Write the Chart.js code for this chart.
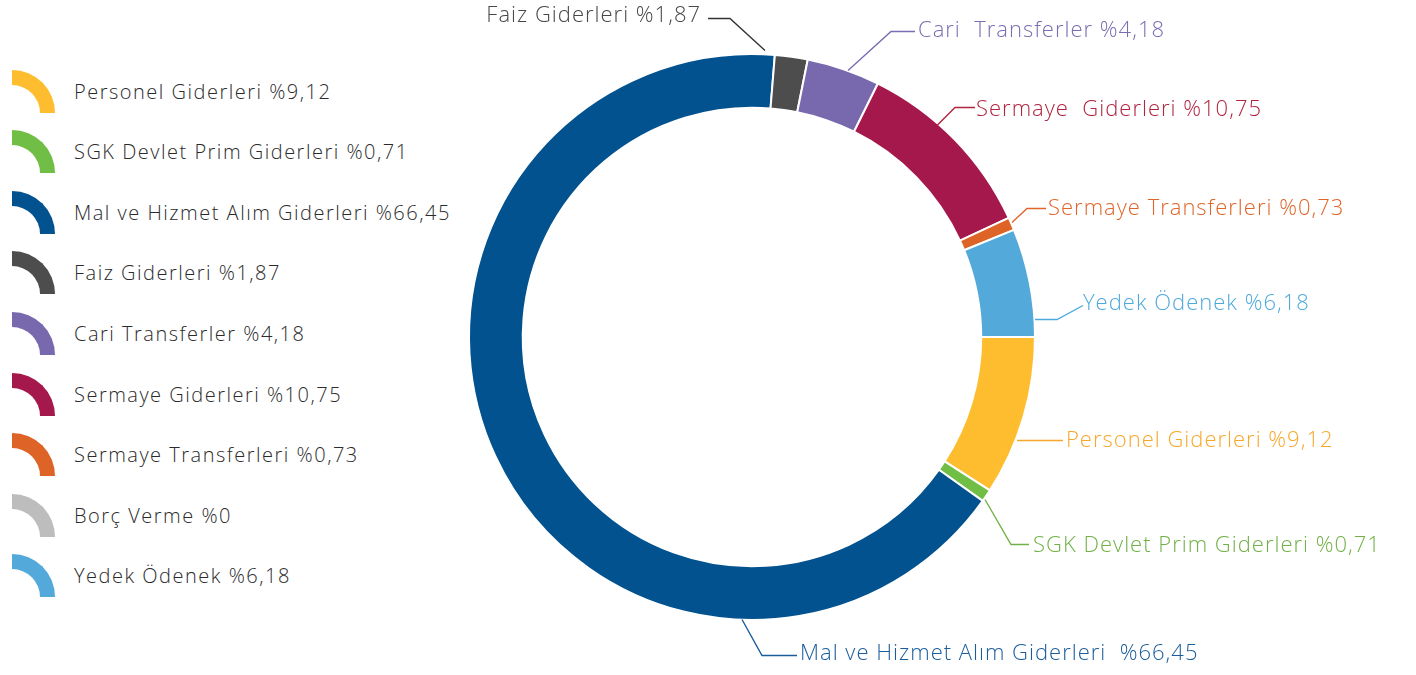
<!DOCTYPE html>
<html>
<head>
<meta charset="utf-8">
<script src="https://cdn.jsdelivr.net/npm/chart.js@4.4.1/dist/chart.umd.min.js"></script>
<style>
  html, body { margin: 0; padding: 0; background: #fff; }
  body { width: 1416px; height: 675px; position: relative; overflow: hidden; font-family: "Open Sans", sans-serif; }
  #wrap { position: absolute; left: 0; top: 0; width: 1416px; height: 675px; }
  #legend { position: absolute; left: 0; top: 0; }
  .lg-row { position: absolute; left: 12px; height: 44px; display: flex; align-items: center; white-space: nowrap; }
  .lg-icon { width: 43px; height: 43px; box-sizing: border-box; border-top-right-radius: 43px; border-style: solid; border-width: 15px 15px 0 0; margin-right: 19px; }
  .lg-text { font-size: 20px; font-weight: 300; letter-spacing: 1.5px; color: #2b2b2b; }
</style>
</head>
<body>
<div id="legend"></div>
<div id="wrap"><canvas id="giderChart"></canvas></div>
<script>
/* ── Data ── */
const categories = [
  "Personel Giderleri",
  "SGK Devlet Prim Giderleri",
  "Mal ve Hizmet Alım Giderleri",
  "Faiz Giderleri",
  "Cari Transferler",
  "Sermaye Giderleri",
  "Sermaye Transferleri",
  "Borç Verme",
  "Yedek Ödenek",
];
const shares = [9.12, 0.71, 66.45, 1.87, 4.18, 10.75, 0.73, 0, 6.18];
// callout names as written on the chart (some with double spaces)
const calloutNames = [
  "Personel Giderleri",
  "SGK Devlet Prim Giderleri",
  "Mal ve Hizmet Alım Giderleri ",
  "Faiz Giderleri",
  "Cari  Transferler",
  "Sermaye  Giderleri",
  "Sermaye Transferleri",
  "Borç Verme",
  "Yedek Ödenek",
];

/* ── Colors ── */
const SEG_COLORS = ["#FDBD2E", "#71BE46", "#02528F", "#4D4D4D", "#7869AE", "#A5184C", "#DE6327", "#BDBDBD", "#53A9D9"];
const TEXT_COLORS = ["#F6A82B", "#72B148", "#1B5D9B", "#474747", "#7A6DB1", "#B0253F", "#E0652B", "#999999", "#4EA9DC"];

const fmt = (v) => "%" + String(v).replace(".", ",");

/* ── Legend (left) ── */
document.getElementById("legend").innerHTML = categories
  .map(
    (c, i) => `
      <div class="lg-row" style="top:${69 + i * 60.6}px">
        <span class="lg-icon" style="border-color:${SEG_COLORS[i]}"></span>
        <span class="lg-text">${c} ${fmt(shares[i])}</span>
      </div>`,
  )
  .join("");

/* ── Callout layout: polyline points and text anchor, relative to doughnut centre ── */
const CALLOUTS = [
  { line: [[265, 103.5], [311, 103.5]], text: [314, 103.5], align: "left" },
  { line: [[233, 162.5], [259, 207.5], [277, 207.5]], text: [281, 209], align: "left" },
  { line: [[-10, 282.5], [10, 318.5], [45, 318.5]], text: [48, 317], align: "left" },
  { line: [[13, -286.5], [-22, -318.5], [-44, -318.5]], text: [-51, -321.5], align: "right" },
  { line: [[96, -266.5], [139, -305.5], [163, -305.5]], text: [166, -306.5], align: "left" },
  { line: [[185, -211.5], [203, -229.5], [223, -229.5]], text: [224, -227], align: "left" },
  { line: [[260, -114.5], [275, -128.5], [294, -128.5]], text: [296, -128.5], align: "left" },
  null,
  { line: [[283, -17.5], [305, -17.5], [331, -31.5]], text: [331, -33.5], align: "left" },
];

const calloutPlugin = {
  id: "callouts",
  afterDatasetsDraw(chart) {
    const { ctx } = chart;
    const arcs = chart.getDatasetMeta(0).data;
    const cx = arcs[0].x;
    const cy = arcs[0].y;
    ctx.save();
    ctx.font = "300 22px 'Open Sans'";
    ctx.letterSpacing = "1px";
    ctx.textBaseline = "middle";
    ctx.lineWidth = 1.4;
    CALLOUTS.forEach((c, i) => {
      if (!c) return;
      ctx.strokeStyle = i === 3 ? "#333" : TEXT_COLORS[i];
      ctx.beginPath();
      c.line.forEach(([dx, dy], k) => {
        if (k === 0) ctx.moveTo(cx + dx, cy + dy);
        else ctx.lineTo(cx + dx, cy + dy);
      });
      ctx.stroke();
      ctx.fillStyle = TEXT_COLORS[i];
      ctx.textAlign = c.align;
      ctx.fillText(calloutNames[i] + " " + fmt(shares[i]), cx + c.text[0], cy + c.text[1]);
    });
    ctx.restore();
  },
};

/* ── Doughnut ── */
const ctx = document.getElementById("giderChart").getContext("2d");
new Chart(ctx, {
  type: "doughnut",
  data: {
    labels: categories,
    datasets: [
      {
        data: shares,
        backgroundColor: SEG_COLORS,
        borderColor: "#fff",
        borderWidth: 2,
      },
    ],
  },
  options: {
    responsive: true,
    maintainAspectRatio: false,
    animation: false,
    rotation: 90,
    cutout: "81%",
    layout: {
      padding: { left: 468, top: 53, right: 380, bottom: 54 },
    },
    plugins: {
      legend: { display: false },
      tooltip: { enabled: false },
    },
  },
  plugins: [calloutPlugin],
});
</script>
</body>
</html>
